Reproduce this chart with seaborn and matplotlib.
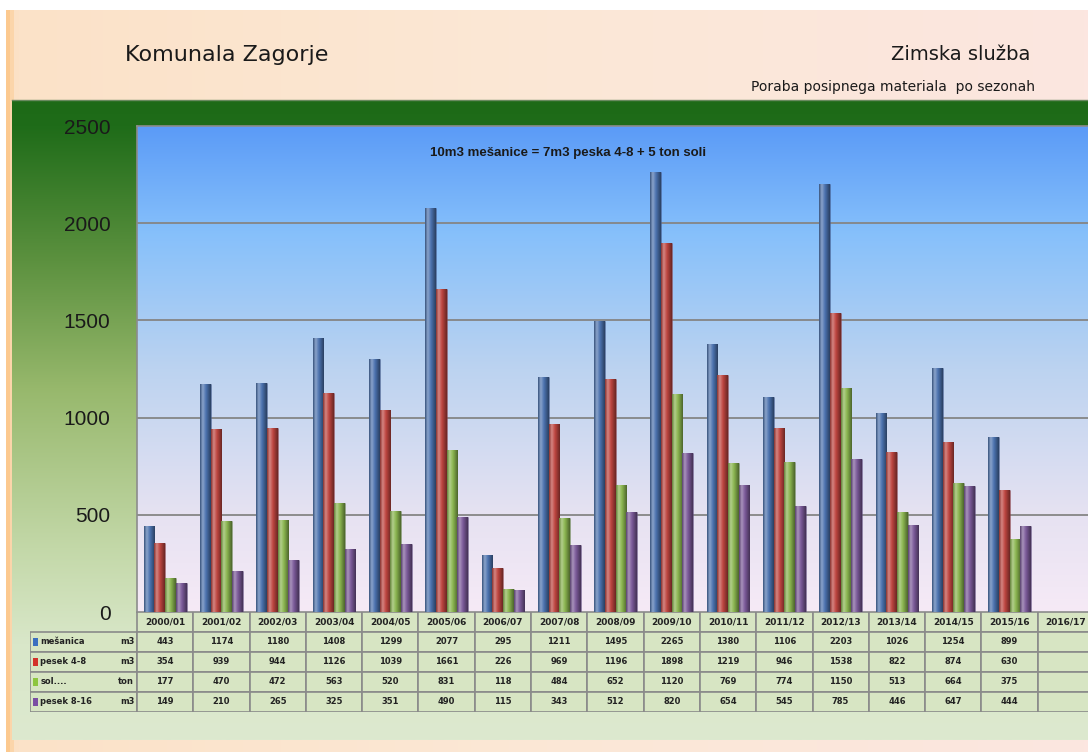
import numpy as np
import pandas as pd
import matplotlib
matplotlib.use("Agg")
import matplotlib.pyplot as plt
import seaborn as sns
from matplotlib.colors import LinearSegmentedColormap, to_rgb
from matplotlib.patches import Rectangle

# ---------------- data ----------------
seasons = ["2000/01", "2001/02", "2002/03", "2003/04", "2004/05", "2005/06", "2006/07",
           "2007/08", "2008/09", "2009/10", "2010/11", "2011/12", "2012/13", "2013/14",
           "2014/15", "2015/16", "2016/17"]
series_names = ["mešanica", "pesek 4-8", "sol....", "pesek 8-16"]
series_units = ["m3", "m3", "ton", "m3"]
mesanica = [443, 1174, 1180, 1408, 1299, 2077, 295, 1211, 1495, 2265, 1380, 1106, 2203, 1026, 1254, 899]
pesek48 = [354, 939, 944, 1126, 1039, 1661, 226, 969, 1196, 1898, 1219, 946, 1538, 822, 874, 630]
sol = [177, 470, 472, 563, 520, 831, 118, 484, 652, 1120, 769, 774, 1150, 513, 664, 375]
pesek816 = [149, 210, 265, 325, 351, 490, 115, 343, 512, 820, 654, 545, 785, 446, 647, 444]
series_values = [mesanica, pesek48, sol, pesek816]
series_colors = ["#3b6fbf", "#d3322b", "#8dc63f", "#7b4fa3"]
y_ticks = [0, 500, 1000, 1500, 2000, 2500]

rows = []
for name, vals in zip(series_names, series_values):
    for s, v in zip(seasons, vals):
        rows.append({"season": s, "series": name, "value": v})
df = pd.DataFrame(rows)

# ---------------- figure ----------------
W, H = 1088, 752
fig = plt.figure(figsize=(W / 100, H / 100), dpi=100)
fig.patch.set_facecolor("white")

def px_axes(x0, y0, x1, y1, **kw):
    return fig.add_axes([x0 / W, 1 - y1 / H, (x1 - x0) / W, (y1 - y0) / H], **kw)

bg = fig.add_axes([0, 0, 1, 1])
bg.set_xlim(0, W)
bg.set_ylim(H, 0)
bg.axis("off")

def vgrad(axis, extent, colors, stops, zorder=0):
    cmap = LinearSegmentedColormap.from_list("g", list(zip(stops, colors)))
    g = np.linspace(0, 1, 256).reshape(-1, 1)
    axis.imshow(g, cmap=cmap, aspect="auto", extent=extent, origin="upper",
                zorder=zorder, interpolation="bilinear")

# outer peach frame
hgrad = np.linspace(0, 1, 256).reshape(1, -1)
cm_peach = LinearSegmentedColormap.from_list("p", [(0, "#fcc98f"), (0.008, "#fbe2c8"), (0.5, "#fbe8d6"), (1, "#fce6e0")])
bg.imshow(hgrad, cmap=cm_peach, aspect="auto", extent=(6, W, H, 10), origin="upper", zorder=0)
# green panel
vgrad(bg, (12, W, 740, 100), ["#1d6a17", "#1f6c19", "#5c913f", "#97b86c", "#c3d8a8", "#d9e7c9", "#dde9cf"],
      [0, 0.04, 0.25, 0.45, 0.7, 0.85, 1.0], zorder=1)
bg.plot([12, W], [100, 100], color="#6a8a60", lw=1, zorder=2)

# ---------------- main axes ----------------
ax = px_axes(137, 126, 1094, 612)
ax.set_facecolor("none")
vgrad(ax, (-0.5, 16.5, 0, 2500), ["#5b9bf7", "#86c0fb", "#bcd3f0", "#e6e2f2", "#f6eaf6"],
      [0, 0.22, 0.5, 0.8, 1.0], zorder=0)

sns.barplot(data=df, x="season", y="value", hue="series", order=seasons,
            hue_order=series_names, palette=series_colors, errorbar=None,
            width=0.76, legend=False, ax=ax, zorder=3)

ax.set_xlim(-0.5, 16.5)
ax.set_ylim(0, 2500)
ax.set_yticks(y_ticks)
ax.set_yticklabels([str(t) for t in y_ticks], fontsize=15, family="Liberation Sans", color="#1a1a1a")
ax.tick_params(axis="y", length=0, pad=19)
ax.tick_params(axis="x", length=0, labelbottom=False)
ax.set_xlabel("")
ax.set_ylabel("")
for t in y_ticks[1:-1]:
    ax.axhline(t, color="#858585", lw=1.3, zorder=2)
for sp in ax.spines.values():
    sp.set_color("#8c8c8c")
    sp.set_linewidth(1.2)

# cylinder shading on each bar
def shade_cmap(c):
    r = np.array(to_rgb(c))
    light = r + (1 - r) * 0.35
    return LinearSegmentedColormap.from_list(
        "s", [(0, r * 0.7), (0.25, light), (0.55, r), (1, r * 0.55)])

for i, patch in enumerate(ax.patches):
    h = patch.get_height()
    if not np.isfinite(h) or h <= 0:
        continue
    x0 = patch.get_x()
    w = patch.get_width()
    color = patch.get_facecolor()
    im = ax.imshow(hgrad, cmap=shade_cmap(color[:3]), aspect="auto",
                   extent=(x0, x0 + w, 0, h), zorder=4, interpolation="bilinear")
    im.set_clip_path(patch)
    patch.set_edgecolor((0.2, 0.2, 0.3, 0.35))
    patch.set_linewidth(0.5)
ax.set_xlim(-0.5, 16.5)
ax.set_ylim(0, 2500)

ax.text(0.45, 0.945, "10m3 mešanice = 7m3 peska 4-8 + 5 ton soli", transform=ax.transAxes,
        ha="center", va="center", fontsize=9.5, fontweight="bold", family="Liberation Sans",
        color="#1a1a1a")

# ---------------- data table ----------------
leg_w = 107 / 56.3
tab = px_axes(30, 612, 1094, 712)
tab.set_xlim(-0.5 - leg_w, 16.5)
tab.set_ylim(5, 0)
tab.axis("off")
cell_face = "#d7e5c3"
edge = "#8a8a8a"
for j, s in enumerate(seasons):
    tab.add_patch(Rectangle((j - 0.5, 0), 1, 1, facecolor=cell_face, edgecolor=edge, lw=1.2))
    tab.text(j, 0.5, s, ha="center", va="center", fontsize=6.5, fontweight="bold",
             family="DejaVu Sans", color="#222222")
for r, (name, unit, vals, col) in enumerate(zip(series_names, series_units, series_values, series_colors)):
    y = r + 1
    tab.add_patch(Rectangle((-0.5 - leg_w, y), leg_w, 1, facecolor=cell_face, edgecolor=edge, lw=1.2))
    tab.add_patch(Rectangle((-0.5 - leg_w + 0.05, y + 0.3), 0.1, 0.4, facecolor=col, edgecolor="none"))
    tab.text(-0.5 - leg_w + 0.18, y + 0.5, name, ha="left", va="center", fontsize=6,
             fontweight="bold", family="DejaVu Sans", color="#222222")
    tab.text(-0.55, y + 0.5, unit, ha="right", va="center", fontsize=6,
             fontweight="bold", family="DejaVu Sans", color="#222222")
    for j in range(len(seasons)):
        tab.add_patch(Rectangle((j - 0.5, y), 1, 1, facecolor=cell_face, edgecolor=edge, lw=1.2))
        if j < len(vals):
            tab.text(j, y + 0.5, str(vals[j]), ha="center", va="center", fontsize=6,
                     fontweight="bold", family="DejaVu Sans", color="#222222")

# ---------------- titles ----------------
title_font = ["Liberation Sans Narrow", "DejaVu Sans"]
fig.text(125 / W, 1 - 55 / H, "Komunala Zagorje", ha="left", va="center", fontsize=16,
         family=title_font, color="#1a1a1a")
fig.text(1030 / W, 1 - 55 / H, "Zimska služba", ha="right", va="center", fontsize=14,
         family=title_font, color="#1a1a1a")
fig.text(1035 / W, 1 - 87 / H, "Poraba posipnega materiala  po sezonah", ha="right", va="center",
         fontsize=10, family=title_font, color="#1a1a1a")

fig.savefig("out.png", dpi=100)
